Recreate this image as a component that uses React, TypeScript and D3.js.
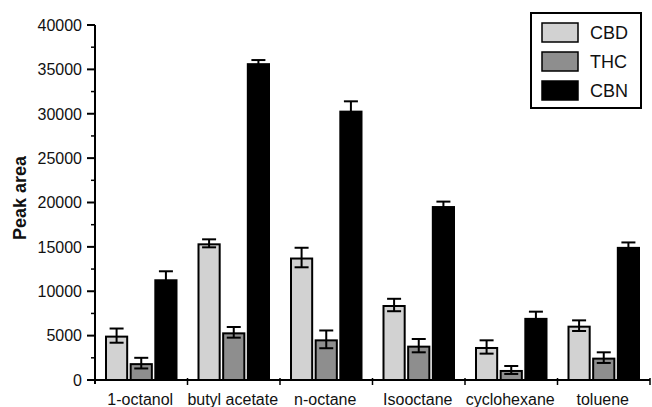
import * as d3 from "d3";
import React from "react";

// solvents on the x axis
const solvents = ["1-octanol", "butyl acetate", "n-octane", "Isooctane", "cyclohexane", "toluene"];
const seriesNames = ["CBD", "THC", "CBN"];
const seriesColors = ["#d2d2d2", "#8e8e8e", "#000000"];

// peak area means
const cbdValues = [5000, 15400, 13800, 8450, 3720, 6120];
const thcValues = [1900, 5370, 4580, 3870, 1130, 2520];
const cbnValues = [11350, 35700, 30350, 19600, 7000, 15000];

// error bar half-heights (SD)
const cbdErrors = [800, 450, 1100, 700, 750, 600];
const thcErrors = [600, 600, 1000, 750, 450, 600];
const cbnErrors = [900, 350, 1050, 500, 700, 500];

const yTicks = [0, 5000, 10000, 15000, 20000, 25000, 30000, 35000, 40000];
const yMinorTicks = [2500, 7500, 12500, 17500, 22500, 27500, 32500, 37500];

const W = 652;
const H = 407;
const font = "'Liberation Sans', Arial, Helvetica, sans-serif";

const App: React.FC = () => {
  const values = [cbdValues, thcValues, cbnValues];
  const errors = [cbdErrors, thcErrors, cbnErrors];

  const x0 = d3.scaleBand<string>().domain(solvents).range([95, 650]).padding(0);
  const x1 = d3
    .scaleBand<string>()
    .domain(seriesNames)
    .range([10, x0.bandwidth() - 10])
    .paddingInner(0.06);
  const y = d3.scaleLinear().domain([0, 40000]).range([380, 25]);

  const capW = 14;

  return (
    <svg
      width={W}
      height={H}
      style={{ position: "absolute", left: 0, top: 0, background: "#fff" }}
      fontFamily={font}
    >
      {/* bars */}
      {solvents.map((s, i) => (
        <g key={s} transform={`translate(${x0(s)},0)`}>
          {seriesNames.map((name, k) => {
            const v = values[k][i];
            const e = errors[k][i];
            const bx = x1(name)!;
            const bw = x1.bandwidth();
            const cx = bx + bw / 2;
            return (
              <g key={name}>
                <rect
                  x={bx + 1}
                  y={y(v) + 1}
                  width={bw - 2}
                  height={y(0) - y(v) - 1}
                  fill={seriesColors[k]}
                  stroke="#000"
                  strokeWidth={2}
                />
                <line x1={cx} x2={cx} y1={y(v + e)} y2={y(v - e)} stroke="#000" strokeWidth={2} />
                <line x1={cx - capW / 2} x2={cx + capW / 2} y1={y(v + e)} y2={y(v + e)} stroke="#000" strokeWidth={2} />
                <line x1={cx - capW / 2} x2={cx + capW / 2} y1={y(v - e)} y2={y(v - e)} stroke="#000" strokeWidth={2} />
              </g>
            );
          })}
        </g>
      ))}

      {/* y axis */}
      <line x1={95} x2={95} y1={y(40000)} y2={384} stroke="#000" strokeWidth={2} />
      {yTicks.map((t) => (
        <g key={t}>
          <line x1={87} x2={95} y1={y(t)} y2={y(t)} stroke="#000" strokeWidth={2} />
          <text x={82} y={y(t)} dy="0.36em" textAnchor="end" fontSize={16} fill="#111">
            {t}
          </text>
        </g>
      ))}
      {yMinorTicks.map((t) => (
        <line key={t} x1={91} x2={95} y1={y(t)} y2={y(t)} stroke="#000" strokeWidth={1.5} />
      ))}
      <text
        transform={`translate(26,198) rotate(-90)`}
        textAnchor="middle"
        fontSize={18}
        fontWeight="bold"
        fill="#111"
      >
        Peak area
      </text>

      {/* x axis */}
      <line x1={94} x2={650} y1={380} y2={380} stroke="#000" strokeWidth={2} />
      {solvents.map((s) => (
        <line key={s} x1={x0(s)! + x0.bandwidth()} x2={x0(s)! + x0.bandwidth()} y1={378} y2={385} stroke="#000" strokeWidth={1.5} />
      ))}
      {solvents.map((s) => (
        <text key={s} x={x0(s)! + x0.bandwidth() / 2 - 1} y={405} textAnchor="middle" fontSize={16} fill="#111">
          {s}
        </text>
      ))}

      {/* legend */}
      <rect x={531} y={13} width={110} height={95} fill="#fff" stroke="#000" strokeWidth={2} />
      {seriesNames.map((name, k) => (
        <g key={name} transform={`translate(542,${23 + k * 29})`}>
          <rect x={0} y={0} width={36} height={19} fill={seriesColors[k]} stroke="#000" strokeWidth={1.5} />
          <text x={48} y={10} dy="0.36em" fontSize={18} fill="#111">
            {name}
          </text>
        </g>
      ))}
    </svg>
  );
};

export default App;
